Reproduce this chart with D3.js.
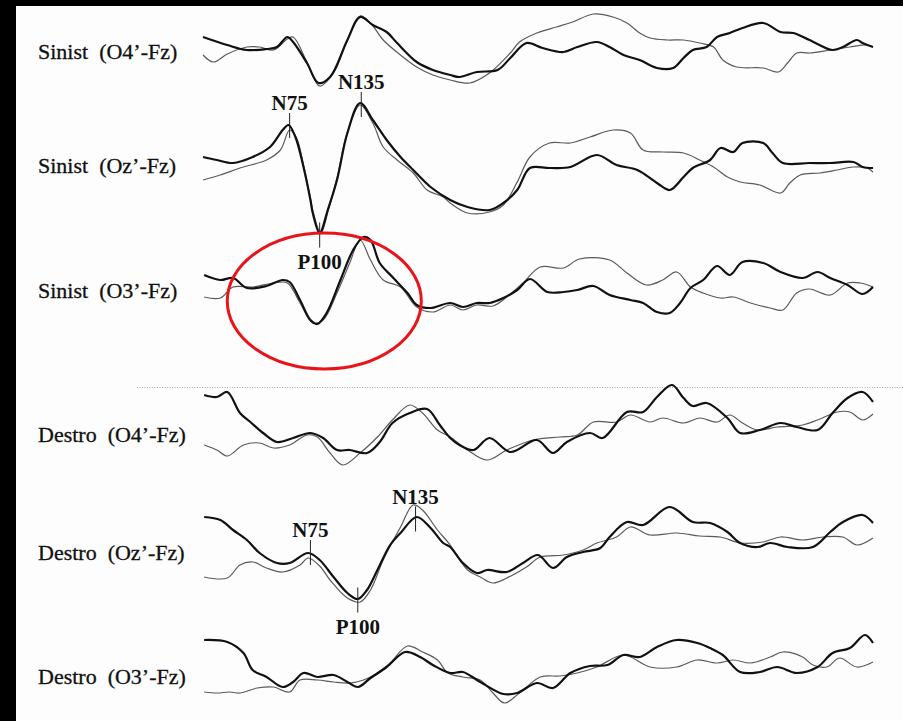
<!DOCTYPE html>
<html>
<head>
<meta charset="utf-8">
<script src="https://cdnjs.cloudflare.com/ajax/libs/d3/7.8.5/d3.min.js"></script>
<title>PEV Sinist / Destro</title>
<style>
    html, body {
        margin: 0;
        background: #000;
    }
    svg {
        display: block;
    }
    .row-label {
        font-family: "Liberation Serif", "DejaVu Serif", serif;
        font-size: 22px;
        fill: #111;
        stroke: #111;
        stroke-width: 0.3;
        white-space: pre;
    }
    .peak-label {
        font-family: "Liberation Serif", "DejaVu Serif", serif;
        font-size: 21px;
        font-weight: bold;
        fill: #111;
    }
</style>
</head>
<body>
<svg id="chart" width="903" height="721"></svg>

<script>

// time axis in ms, amplitude in uV (negative plotted up)
var timeDomain = [0, 580];

var rowLabels = [
    "Sinist  (O4\u2019-Fz)",
    "Sinist  (Oz\u2019-Fz)",
    "Sinist  (O3\u2019-Fz)",
    "Destro  (O4\u2019-Fz)",
    "Destro  (Oz\u2019-Fz)",
    "Destro  (O3\u2019-Fz)"
];

// [ms, uV] pairs, dark trace
var sinO4Dark = [[0,-2.6],[21,-1.0],[38,0],[55,-0.2],[64,-0.6],[73,-2.6],[78,-1.6],[90,2.6],[100,6.6],[110,5.4],[125,-2.0],[136,-6.6],[147,-5.0],[159,-3.6],[168,-1.4],[185,2.4],[199,4.0],[214,5.0],[222,5.4],[237,4.4],[255,4.0],[266,1.6],[280,-1.4],[294,-0.4],[312,0.4],[324,-0.6],[341,-1.6],[352,-0.6],[364,1.0],[378,2.0],[393,3.6],[407,3.6],[416,1.6],[424,0],[436,-0.6],[445,-2.6],[456,-3.4],[467,-4.4],[485,-5.4],[500,-3.6],[511,-3.4],[525,-2.0],[545,0],[554,-0.6],[566,-2.0],[571,-1.4],[580,-0.6]];
var sinO4Light = [[0,1.0],[9,2.4],[21,0.8],[38,-0.6],[49,-0.6],[61,0],[73,-2.2],[78,-2.6],[90,2.4],[101,7.2],[113,4.6],[125,-2.0],[136,-6.8],[145,-5.4],[156,-2.0],[171,1.0],[185,3.4],[199,5.0],[214,6.0],[231,6.6],[248,4.6],[266,0.6],[274,-1.6],[289,-3.4],[306,-4.6],[320,-5.6],[338,-7.2],[355,-6.6],[367,-5.4],[378,-3.4],[387,-2.4],[402,-2.0],[416,-2.0],[430,-1.4],[442,-0.6],[450,2.0],[462,3.4],[485,3.6],[498,4.4],[506,2.6],[514,0.6],[525,0.6],[543,0],[560,-0.6],[575,-1.0],[580,-0.6]];

var sinOzDark = [[0,-2.6],[12,-2.0],[26,-1.4],[43,-2.6],[58,-4.6],[69,-8.0],[74,-9.0],[80,-6.6],[87,-0.6],[93,6.0],[95,8.6],[101,12.6],[108,8.0],[116,2.0],[125,-7.4],[136,-13.4],[147,-10.0],[159,-6.0],[171,-2.6],[182,0],[197,3.4],[214,6.0],[229,7.4],[248,8.0],[260,6.6],[272,4.0],[283,-0.4],[300,-0.4],[318,-0.6],[341,-3.0],[358,-1.0],[376,0],[393,2.6],[404,4.0],[416,1.4],[424,-0.4],[439,-2.0],[448,-4.4],[459,-3.6],[467,-5.4],[485,-5.4],[493,-3.4],[502,-1.4],[525,-1.4],[543,-1.4],[563,-1.6],[571,-0.6],[580,-0.4]];
var sinOzLight = [[0,2.0],[15,1.0],[32,-0.4],[55,-2.0],[67,-4.0],[75,-8.0],[81,-6.4],[87,-1.0],[93,5.6],[96,9.0],[102,12.6],[109,7.6],[116,1.6],[125,-7.6],[136,-13.0],[147,-9.4],[156,-4.6],[168,-2.0],[182,0.6],[194,4.0],[208,5.4],[214,6.6],[229,8.6],[248,8.4],[260,7.0],[272,2.4],[283,-2.6],[300,-5.4],[318,-5.4],[335,-6.6],[355,-8.0],[370,-7.4],[381,-4.0],[398,-3.6],[416,-3.4],[430,-2.0],[442,-0.6],[454,1.4],[465,2.4],[482,3.0],[500,4.6],[508,2.6],[517,1.0],[534,0.6],[549,0],[563,-0.6],[575,-0.4],[580,0.4]];

var sinO3Dark = [[1,-3.0],[15,-2.0],[26,-2.4],[38,-0.4],[55,-0.8],[69,-2.0],[75,-1.6],[84,2.0],[93,6.0],[99,6.8],[107,4.6],[119,-2.0],[130,-8.0],[139,-10.6],[145,-10.0],[153,-5.4],[164,-2.6],[177,0.6],[185,3.0],[197,3.6],[214,2.6],[225,3.4],[237,2.6],[248,2.6],[260,1.6],[272,0],[283,-2.2],[298,0.4],[312,0.4],[324,0],[338,-0.8],[352,1.0],[370,2.0],[381,2.6],[393,4.4],[404,4.6],[413,2.6],[422,-0.4],[433,-2.0],[445,-4.8],[456,-3.0],[467,-5.6],[485,-5.4],[500,-3.6],[519,-2.4],[532,-3.6],[543,-2.4],[558,-1.0],[571,0.8],[580,-0.6]];
var sinO3Light = [[1,1.4],[15,1.6],[26,-0.6],[43,-0.6],[61,-1.4],[73,-1.4],[84,2.6],[95,6.6],[104,6.0],[116,0.6],[127,-5.4],[136,-10.0],[145,-6.0],[156,-2.0],[171,-0.6],[185,3.4],[199,4.4],[214,3.0],[225,4.0],[237,3.0],[251,3.2],[263,1.4],[277,-1.4],[292,-4.6],[312,-4.4],[326,-6.2],[352,-6.0],[367,-3.4],[384,-1.0],[398,-2.0],[410,-3.6],[422,-0.6],[433,0.6],[448,1.6],[459,1.4],[474,2.6],[491,3.6],[502,4.0],[514,0.6],[525,-0.2],[543,1.0],[558,-1.4],[569,-1.4],[580,-0.6]];

var desO4Dark = [[1,-7.4],[12,-7.0],[21,-8.0],[32,-3.8],[41,-2.0],[52,0.2],[64,2.0],[78,1.2],[93,0.2],[104,1.2],[116,3.6],[127,3.6],[142,4.2],[153,2.0],[164,-1.8],[179,-3.8],[194,-4.6],[205,-1.4],[214,1.2],[222,2.6],[234,3.6],[248,1.2],[266,4.0],[289,1.6],[303,4.2],[315,2.0],[335,0.2],[346,1.2],[367,-4.0],[381,-4.0],[393,-7.0],[406,-9.4],[416,-6.8],[424,-5.2],[436,-5.8],[454,-2.8],[465,0.2],[482,-0.4],[500,-1.8],[514,-1.0],[532,-0.4],[545,-3.8],[558,-6.8],[571,-8.0],[580,-6.0]];
var desO4Light = [[1,2.6],[12,3.6],[21,4.8],[35,2.6],[49,2.2],[61,3.2],[75,2.6],[90,0.6],[99,1.0],[110,4.2],[121,6.6],[136,4.2],[151,1.0],[164,-2.4],[179,-5.4],[190,-3.8],[203,-0.4],[214,1.0],[229,3.6],[246,5.6],[263,3.6],[286,1.6],[309,1.0],[324,0.6],[338,-2.0],[358,-2.0],[370,-3.4],[387,-2.0],[398,-2.8],[416,-1.8],[430,-2.8],[445,-2.0],[456,-3.4],[467,-1.8],[480,-0.4],[497,-1.0],[519,-1.4],[532,-2.4],[549,-4.0],[560,-4.0],[571,-2.4],[580,-3.6]];

var desOzDark = [[1,-7.0],[15,-6.4],[26,-4.4],[38,-2.4],[49,0.2],[64,2.2],[75,2.2],[91,0.2],[101,1.6],[113,5.0],[125,8.2],[134,9.4],[142,7.6],[151,3.6],[162,-1.4],[171,-3.8],[185,-7.0],[197,-4.8],[208,-1.8],[214,-1.0],[225,2.2],[237,4.2],[246,3.6],[263,4.0],[277,2.2],[290,0.6],[303,3.2],[315,1.0],[329,0],[344,-0.8],[352,-3.0],[367,-6.0],[381,-5.4],[404,-9.0],[424,-6.0],[439,-5.8],[454,-4.0],[465,-1.8],[480,-1.0],[491,-1.8],[506,-1.0],[528,-1.0],[543,-4.0],[554,-6.0],[571,-7.4],[580,-5.8]];
var desOzLight = [[1,5.0],[21,5.2],[32,2.6],[43,2.0],[55,3.2],[69,4.0],[84,2.6],[91,1.2],[101,2.8],[110,5.6],[125,9.2],[136,10.0],[145,7.6],[156,1.6],[171,-5.0],[182,-9.4],[190,-8.4],[203,-4.4],[214,-1.4],[229,3.6],[240,5.0],[251,6.2],[263,5.2],[280,3.0],[292,1.0],[312,0.6],[329,-0.4],[341,-1.8],[358,-3.0],[370,-5.0],[387,-3.4],[410,-3.8],[430,-3.2],[448,-3.0],[465,-1.8],[485,-2.0],[500,-3.0],[519,-2.4],[537,-3.0],[554,-3.0],[566,-1.4],[580,-2.8]];

var desO3Dark = [[1,-6.4],[21,-6.0],[35,-3.8],[43,-0.4],[55,1.0],[69,3.0],[78,2.0],[87,0.2],[99,1.0],[113,0.6],[125,2.0],[134,3.0],[145,1.2],[159,-1.0],[175,-4.0],[188,-3.0],[199,-1.4],[214,0.2],[225,0],[240,2.0],[260,4.4],[272,4.2],[289,2.2],[303,3.2],[318,0.2],[335,-1.2],[350,-1.4],[364,-3.4],[378,-3.0],[393,-5.0],[410,-6.4],[428,-5.8],[439,-4.8],[450,-3.4],[465,0],[482,0],[497,-1.0],[514,0.2],[532,-1.0],[545,-3.8],[560,-4.8],[573,-7.4],[580,-5.8]];
var desO3Light = [[1,4.0],[12,4.2],[23,4.0],[32,4.2],[47,3.2],[61,3.0],[75,4.0],[84,1.6],[99,1.6],[113,2.0],[127,2.2],[139,1.6],[151,0.2],[162,-1.8],[177,-5.2],[190,-4.0],[203,-2.4],[212,0.2],[225,1.0],[240,1.6],[251,4.2],[261,6.2],[274,4.2],[292,1.0],[309,0.8],[324,0.2],[341,-1.0],[364,-3.4],[387,-1.0],[410,-1.0],[428,-2.4],[445,-1.8],[459,-2.4],[474,-1.8],[491,-3.0],[502,-4.0],[519,-3.0],[528,-1.4],[540,-1.0],[551,-2.8],[566,-1.0],[580,-2.0]];

// peak markers: row index, name, latency (ms), amplitude (uV)
var peakRows = [1, 1, 1, 4, 4, 4];
var peakNames = ["N75", "P100", "N135", "N75", "P100", "N135"];
var peakLatency = [75, 101, 137, 93, 134, 184];
var peakAmp = [-8.9, 13.0, -13.1, 0.1, 9.6, -6.6];

// circled region on Sinist (O3'-Fz): time range and amplitude range
var circleRow = 2;
var circleTime = [21, 189];
var circleAmp = [-11.4, 15.8];

var darkTraces = [sinO4Dark, sinOzDark, sinO3Dark, desO4Dark, desOzDark, desO3Dark];
var lightTraces = [sinO4Light, sinOzLight, sinO3Light, desO4Light, desOzLight, desO3Light];

// layout
var rowCenter = [50, 170, 290, 432, 552, 672];
var labelBase = [59, 173, 298, 442, 560, 684];

var svg = d3.select("#chart");

svg.append("rect")
    .attr("x", 16)
    .attr("y", 6)
    .attr("width", 903 - 16)
    .attr("height", 721 - 6)
    .attr("fill", "#fdfdfd");

var x = d3.scaleLinear()
    .domain(timeDomain)
    .range([203, 873]);

function yScale(i) {
    return d3.scaleLinear()
        .domain([-10, 10])
        .range([rowCenter[i] - 50, rowCenter[i] + 50]);
}

var rows = rowLabels.map(function(label, i) {
    return { label: label, dark: darkTraces[i], light: lightTraces[i], y: yScale(i), i: i };
});

// dotted separator between the two groups
svg.append("line")
    .attr("x1", 137)
    .attr("x2", 903)
    .attr("y1", 387.5)
    .attr("y2", 387.5)
    .attr("stroke", "#aaa")
    .attr("stroke-width", 1)
    .attr("stroke-dasharray", "1,1.5");

var g = svg.selectAll(".row")
    .data(rows)
    .enter()
    .append("g")
    .attr("class", "row");

g.append("text")
    .attr("class", "row-label")
    .attr("x", 38)
    .attr("y", function(d){ return labelBase[d.i]; })
    .text(function(d){ return d.label; });

g.each(function(d) {
    var line = d3.line()
        .x(function(p){ return x(p[0]); })
        .y(function(p){ return d.y(p[1]); })
        .curve(d3.curveCatmullRom.alpha(0.5));

    d3.select(this).append("path")
        .attr("d", line(d.light))
        .attr("fill", "none")
        .attr("stroke", "#5a5a5a")
        .attr("stroke-width", 1.2);

    d3.select(this).append("path")
        .attr("d", line(d.dark))
        .attr("fill", "none")
        .attr("stroke", "#111")
        .attr("stroke-width", 2.2);
});

// peak ticks and names
var peaks = peakNames.map(function(name, k) {
    return { name: name, row: peakRows[k], t: peakLatency[k], v: peakAmp[k] };
});

var pk = svg.selectAll(".peak")
    .data(peaks)
    .enter()
    .append("g")
    .attr("class", "peak");

pk.append("line")
    .attr("x1", function(d){ return x(d.t); })
    .attr("x2", function(d){ return x(d.t); })
    .attr("y1", function(d){ return rows[d.row].y(d.v) - 12.5; })
    .attr("y2", function(d){ return rows[d.row].y(d.v) + 12.5; })
    .attr("stroke", "#222")
    .attr("stroke-width", 1);

pk.append("text")
    .attr("class", "peak-label")
    .attr("text-anchor", "middle")
    .attr("x", function(d){ return x(d.t); })
    .attr("y", function(d){
        var c = rows[d.row].y(d.v);
        return d.name[0] === "N" ? c - 15.5 : c + 34;
    })
    .text(function(d){ return d.name; });

// red ellipse around the Sinist (O3'-Fz) response
var cy = rows[circleRow].y;
svg.append("ellipse")
    .attr("cx", (x(circleTime[0]) + x(circleTime[1])) / 2)
    .attr("cy", (cy(circleAmp[0]) + cy(circleAmp[1])) / 2)
    .attr("rx", (x(circleTime[1]) - x(circleTime[0])) / 2)
    .attr("ry", (cy(circleAmp[1]) - cy(circleAmp[0])) / 2)
    .attr("fill", "none")
    .attr("stroke", "#e8141a")
    .attr("stroke-width", 3);

</script>
</body>
</html>
